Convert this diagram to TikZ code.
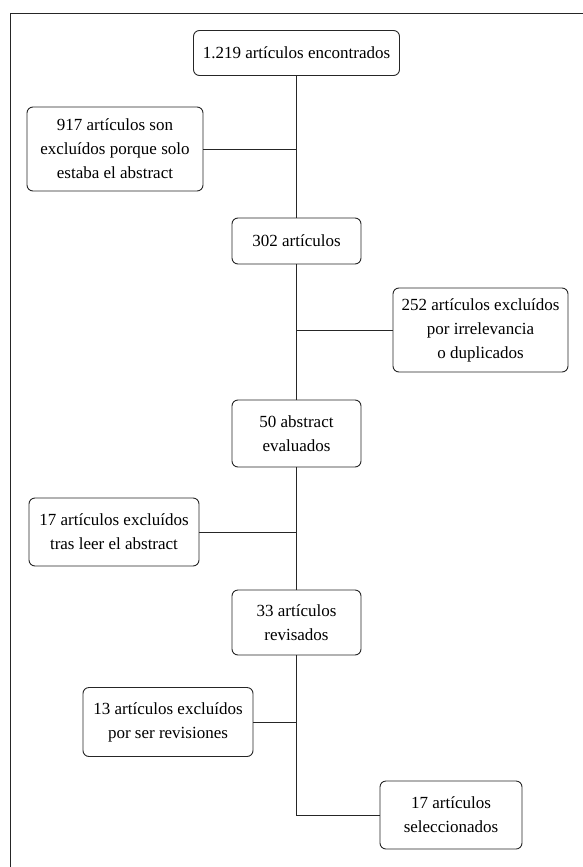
\documentclass[tikz,border=0pt]{standalone}
\usepackage{fontspec}
\setmainfont{Liberation Serif}
\usetikzlibrary{calc}
\tikzstyle{Box}=[draw=black!85, rounded corners=6pt, align=center, inner sep=0pt, line width=0.9pt, font=\fontsize{17}{24}\selectfont]
\tikzstyle{Link}=[draw=black!85, line width=0.9pt]

\begin{document}
\begin{tikzpicture}[x=1pt, y=-1pt]
			\useasboundingbox (0,0) rectangle (583,867);
			\draw[Link] (10,867) |- (583,13);
			\node[Box, minimum width=206pt, minimum height=45pt] (1) at (296.5, 53) {1.219 artículos encontrados};
			\node[Box, minimum width=176pt, minimum height=84pt] (2) at (115, 149) {917 artículos son\\excluídos porque solo\\estaba el abstract};
			\node[Box, minimum width=129pt, minimum height=46pt] (3) at (296.5, 241) {302 artículos};
			\node[Box, minimum width=175pt, minimum height=84pt] (4) at (480.5, 330) {252 artículos excluídos\\por irrelevancia\\o duplicados};
			\node[Box, minimum width=129pt, minimum height=67pt] (5) at (296.5, 433.5) {50 abstract\\evaluados};
			\node[Box, minimum width=170pt, minimum height=68pt] (6) at (114, 532) {17 artículos excluídos\\tras leer el abstract};
			\node[Box, minimum width=129pt, minimum height=65pt] (7) at (296.5, 622.5) {33 artículos\\revisados};
			\node[Box, minimum width=170pt, minimum height=69pt] (8) at (168, 722) {13 artículos excluídos\\por ser revisiones};
			\node[Box, minimum width=142pt, minimum height=68pt] (9) at (451, 815) {17 artículos\\seleccionados};
			% tronco principal
			\path[Link] (1) edge (3) (3) edge (5) (5) edge (7);
			\draw[Link] (7) |- (9);
			% ramas de exclusion
			\draw[Link] (2) -- (2 -| 1);
			\draw[Link] (4) -- (4 -| 1);
			\draw[Link] (6) -- (6 -| 1);
			\draw[Link] (8) -- (8 -| 1);
		\end{tikzpicture}
\end{document}
